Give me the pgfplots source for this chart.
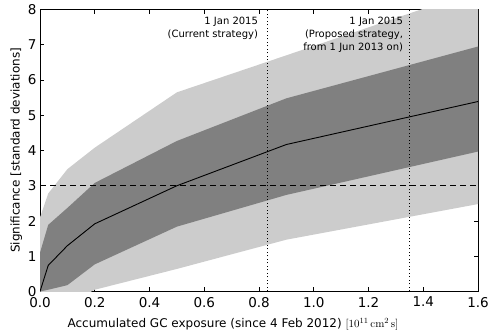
\documentclass[border=0pt]{standalone}
\usepackage[no-math]{fontspec}
\setmainfont{DejaVu Sans}
\usepackage{pgfplots}
\usepackage{pgfplotstable}
\pgfplotsset{compat=1.18}
\usepgfplotslibrary{fillbetween}

% significance curve with 1 and 2 sigma bands
\pgfplotstableread{
x     mid   dlo   dhi   llo    lhi
0     0     0     1.10  0      2.10
0.03  0.74  0.05  1.89  -0.10  2.78
0.1   1.30  0.18  2.37  -0.35  3.47
0.2   1.92  0.77  3.08  0.05   4.08
0.5   3.00  1.84  4.27  0.64   5.65
0.9   4.17  2.74  5.48  1.47   6.70
1.6   5.39  3.97  6.95  2.48   8.55
}\sigtable

\definecolor{lightband}{gray}{0.8}
\definecolor{darkband}{gray}{0.5}

\begin{document}
\begin{tikzpicture}
\begin{axis}[
    name=ax,
    scale only axis,
    width=438pt, height=282pt,
    xmin=0, xmax=1.6, ymin=0, ymax=8,
    xtick={0,0.2,...,1.6},
    ytick={0,1,...,8},
    tick align=inside,
    major tick length=4pt,
    tick style={black, line width=0.6pt},
    axis line style={line width=0.9pt},
    /pgf/number format/assume math mode=true,
    xticklabel={\pgfmathprintnumber[fixed, fixed zerofill, precision=1]{\tick}},
    every tick label/.append style={font=\fontsize{13.5}{15}\selectfont},
    xticklabel style={yshift=-2pt},
    xlabel={Accumulated GC exposure (since 4 Feb 2012) {\fontsize{11}{12}\selectfont$[10^{11}\,\mathrm{cm}^2\,\mathrm{s}]$}},
    ylabel={Significance [standard deviations]},
    xlabel style={font=\fontsize{12}{14}\selectfont, xshift=-26pt, yshift=-4pt},
    ylabel style={font=\fontsize{12}{14}\selectfont, yshift=-1pt},
]
\addplot[draw=none, name path=lhi, forget plot] table[x=x, y=lhi]{\sigtable};
\addplot[draw=none, name path=llo, forget plot] table[x=x, y=llo]{\sigtable};
\addplot[draw=none, name path=dhi, forget plot] table[x=x, y=dhi]{\sigtable};
\addplot[draw=none, name path=dlo, forget plot] table[x=x, y=dlo]{\sigtable};
\addplot[fill=lightband, draw=none] fill between[of=lhi and llo];
\addplot[fill=darkband, draw=none] fill between[of=dhi and dlo];

\addplot[black, line width=0.9pt] table[x=x, y=mid]{\sigtable};
\addplot[black, line width=0.9pt, dash pattern=on 6pt off 4pt] coordinates {(0,3) (1.6,3)};
\addplot[black, line width=0.9pt, dash pattern=on 1pt off 2.5pt] coordinates {(0.83,0) (0.83,8)};
\addplot[black, line width=0.9pt, dash pattern=on 1pt off 2.5pt] coordinates {(1.35,0) (1.35,8)};

\node[anchor=north east, align=right, inner sep=0pt, font=\fontsize{10}{13}\selectfont]
    at (axis cs:0.797,7.78) {1 Jan 2015\\(Current strategy)};
\node[anchor=north east, align=right, inner sep=0pt, font=\fontsize{10}{13}\selectfont]
    at (axis cs:1.327,7.78) {1 Jan 2015\\(Proposed strategy,\\from 1 Jun 2013 on)};
\end{axis}
\pgfresetboundingbox
\path[use as bounding box] ([xshift=-40pt,yshift=-40.3pt]ax.south west) rectangle ([xshift=20pt,yshift=9.5pt]ax.north east);
\end{tikzpicture}
\end{document}
